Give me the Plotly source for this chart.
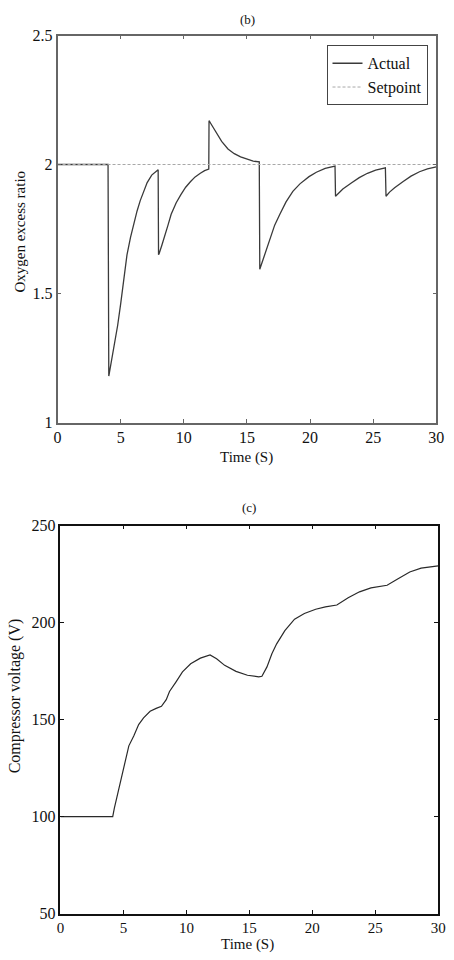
import plotly.graph_objects as go

# ---- (b) Oxygen excess ratio ----
t_b = [0, 4.0, 4.06, 4.25, 4.4, 4.58, 4.76, 5.0, 5.27, 5.5, 5.78, 6.05, 6.30, 6.55, 6.81, 7.1, 7.46, 7.75, 7.97,
       8.0, 8.05, 8.25, 8.48, 8.75, 9.0, 9.4, 9.77, 10.15, 10.54, 10.9, 11.31, 11.65, 11.98,
       12.0, 12.15, 12.3, 12.6, 13.0, 13.5, 14.0, 14.5, 15.0, 15.5, 15.98,
       16.02, 16.2, 16.4, 16.84, 17.2, 17.61, 18.1, 18.64, 19.2, 19.92, 20.5, 21.2, 21.98,
       22.02, 22.3, 22.6, 23.27, 23.9, 24.55, 25.2, 25.97,
       26.02, 26.3, 26.7, 27.38, 28.0, 28.67, 29.3, 30.0]
actual_b = [2.0, 2.0, 1.18, 1.235, 1.27, 1.32, 1.376, 1.46, 1.566, 1.65, 1.718, 1.775, 1.82, 1.86, 1.896, 1.93, 1.959, 1.972, 1.98,
            1.65, 1.655, 1.685, 1.718, 1.765, 1.807, 1.852, 1.883, 1.912, 1.934, 1.952, 1.966, 1.976, 1.982,
            2.17, 2.158, 2.145, 2.12, 2.09, 2.06, 2.042, 2.03, 2.02, 2.013, 2.01,
            1.594, 1.62, 1.65, 1.718, 1.765, 1.807, 1.855, 1.896, 1.925, 1.953, 1.97, 1.985, 1.994,
            1.877, 1.892, 1.905, 1.928, 1.949, 1.966, 1.978, 1.987,
            1.877, 1.893, 1.91, 1.934, 1.955, 1.972, 1.983, 1.991]
t_sp = [0, 30]
setpoint_b = [2.0, 2.0]

# ---- (c) Compressor voltage ----
t_c = [0, 4.15, 4.28, 4.66, 5.05, 5.43, 5.82, 6.21, 6.6, 7.12, 7.6, 8.02, 8.40, 8.66, 9.18, 9.69,
       10.34, 11.11, 11.88, 12.4, 13.04, 13.94, 14.85, 15.75, 16.0, 16.4, 16.79, 17.17, 17.82,
       18.59, 19.37, 20.27, 21.04, 21.95, 22.85, 23.75, 24.66, 25.94, 26.71, 27.74, 28.64, 29.8, 30]
volt_c = [100, 100, 104.4, 114.6, 126.4, 136.5, 141.6, 147.5, 150.9, 154.3, 155.8, 156.9, 160.3, 164.5,
          169.5, 174.6, 178.8, 181.7, 183.4, 181.4, 178.0, 174.9, 172.9, 172.1, 172.4, 177.2, 184.0,
          189.1, 195.9, 201.8, 204.7, 206.9, 208.1, 209.1, 212.8, 215.9, 217.9, 219.3, 222.2, 226.1,
          228.1, 229.3, 229.3]

x_ticks = [0, 5, 10, 15, 20, 25, 30]
yb_ticks = [1, 1.5, 2, 2.5]
yb_labels = ["1", "1.5", "2", "2.5"]
yc_ticks = [50, 100, 150, 200, 250]

FONT = "Liberation Serif"
W, H = 454, 960

fig = go.Figure()
fig.add_trace(go.Scatter(x=t_b, y=actual_b, mode="lines", name="Actual",
                         line=dict(color="#3a3a3a", width=1.3), xaxis="x", yaxis="y"))
fig.add_trace(go.Scatter(x=t_sp, y=setpoint_b, mode="lines", name="Setpoint",
                         line=dict(color="#a8a8a8", width=1, dash="3px,2px"), xaxis="x", yaxis="y"))
fig.add_trace(go.Scatter(x=t_c, y=volt_c, mode="lines", name="Voltage", showlegend=False,
                         line=dict(color="#2a2a2a", width=1.2), xaxis="x2", yaxis="y2"))

def px(x):
    return x / W

def py(y):
    return 1 - y / H

def axis_style(size):
    return dict(showgrid=False, zeroline=False, showline=True, mirror="ticks",
                ticks="inside", ticklen=4, tickfont=dict(family=FONT, size=size, color="#111"))

fig.update_layout(
    width=W, height=H, margin=dict(l=0, r=0, t=0, b=0),
    paper_bgcolor="white", plot_bgcolor="white",
    font=dict(family=FONT, color="#111"),
    xaxis=dict(domain=[px(55), px(444)], range=[0, 30], tickvals=x_ticks, anchor="y",
               linecolor="#666", tickcolor="#666", linewidth=1.5, **axis_style(16)),
    yaxis=dict(domain=[py(422), py(28)], range=[1, 2.5], tickvals=yb_ticks, ticktext=yb_labels,
               anchor="x", linecolor="#666", tickcolor="#666", linewidth=1.5, **axis_style(16)),
    xaxis2=dict(domain=[px(58), px(446)], range=[0, 30], tickvals=x_ticks, anchor="y2",
                linecolor="#111", tickcolor="#111", linewidth=1.5, **axis_style(15)),
    yaxis2=dict(domain=[py(922), py(527)], range=[50, 250], tickvals=yc_ticks, anchor="x2",
                linecolor="#111", tickcolor="#111", linewidth=1.5, **axis_style(16)),
    legend=dict(x=px(435), y=py(38), xanchor="right", yanchor="top",
                bordercolor="#444", borderwidth=1, bgcolor="white",
                font=dict(family=FONT, size=16, color="#111"), tracegroupgap=0),
    showlegend=True,
)

annos = [
    dict(text="(b)", x=px(250), y=py(12), xanchor="center", yanchor="middle", size=13),
    dict(text="Time (S)", x=px(249), y=py(458), xanchor="center", yanchor="middle", size=15),
    dict(text="(c)", x=px(252), y=py(508), xanchor="center", yanchor="middle", size=13),
    dict(text="Time (S)", x=px(250), y=py(943), xanchor="center", yanchor="top", size=15),
]
for a in annos:
    fig.add_annotation(text=a["text"], x=a["x"], y=a["y"], xref="paper", yref="paper",
                       xanchor=a["xanchor"], yanchor=a["yanchor"], showarrow=False,
                       font=dict(family=FONT, size=a["size"], color="#111"))

fig.add_annotation(text="Oxygen excess ratio", x=px(16), y=py(228), xref="paper", yref="paper",
                   xanchor="center", yanchor="middle", textangle=-90, showarrow=False,
                   font=dict(family=FONT, size=15, color="#111"))
fig.add_annotation(text="Compressor voltage (V)", x=px(11), y=py(700), xref="paper", yref="paper",
                   xanchor="center", yanchor="middle", textangle=-90, showarrow=False,
                   font=dict(family=FONT, size=16, color="#111"))

fig.write_html("out.html")
